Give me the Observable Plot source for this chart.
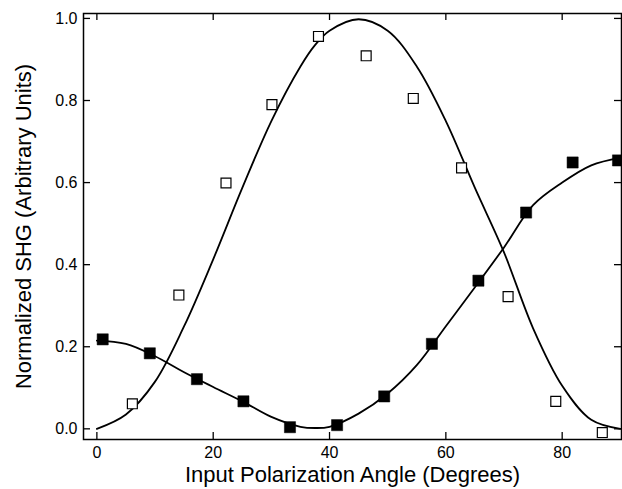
<!DOCTYPE html>
<html>
<head>
<meta charset="utf-8">
<script src="https://cdn.jsdelivr.net/npm/d3@7"></script>
<script src="https://cdn.jsdelivr.net/npm/@observablehq/plot@0.6"></script>
<style>
  html, body { margin: 0; padding: 0; background: #fff; }
  #chart svg { font-family: "Liberation Sans", Arial, sans-serif; }
  #chart [aria-label$="tick label"] { font-size: 16px; }
</style>
</head>
<body>
<div id="chart"></div>
<script>
// Open squares (measured)
const openX = [6.1, 14.1, 22.2, 30.1, 38.1, 46.3, 54.4, 62.7, 70.7, 78.9, 86.9];
const openY = [0.061, 0.326, 0.599, 0.790, 0.956, 0.909, 0.805, 0.636, 0.322, 0.067, -0.009];
// Filled squares (measured)
const filledX = [1.0, 9.1, 17.2, 25.2, 33.2, 41.3, 49.4, 57.6, 65.6, 73.8, 81.8, 89.6];
const filledY = [0.218, 0.184, 0.121, 0.067, 0.004, 0.009, 0.079, 0.207, 0.361, 0.527, 0.649, 0.654];
// Fitted curves
const fitX = [0, 5, 10, 15, 20, 25, 30, 35, 37.5, 40, 45, 50, 55, 60, 65, 70, 75, 80, 85, 90];
const openFitY = [0, 0.035, 0.115, 0.25, 0.413, 0.587, 0.75, 0.883, 0.935, 0.97, 0.998, 0.97, 0.883, 0.75, 0.587, 0.43, 0.245, 0.105, 0.022, 0];
const filledFitY = [0.215, 0.207, 0.177, 0.138, 0.102, 0.067, 0.029, 0.005, 0.002, 0.005, 0.037, 0.086, 0.155, 0.25, 0.345, 0.442, 0.545, 0.600, 0.642, 0.661];
const xTicks = [0, 20, 40, 60, 80];
const yTicks = [0, 0.2, 0.4, 0.6, 0.8, 1.0];
const xLabel = "Input Polarization Angle (Degrees)";
const yLabel = "Normalized SHG (Arbitrary Units)";

const openPts = openX.map((x, i) => ({x, y: openY[i]}));
const filledPts = filledX.map((x, i) => ({x, y: filledY[i]}));
const openFit = fitX.map((x, i) => ({x, y: openFitY[i]}));
const filledFit = fitX.map((x, i) => ({x, y: filledFitY[i]}));

const W = 622, H = 489, ML = 83, MR = 1, MT = 13, MB = 50;
const xDom = [-2.3, 90.2], yDom = [-0.026, 1.012];
const frameW = W - ML - MR, frameH = H - MT - MB, tick = 7;
// inward tick lengths expressed in data units of each scale
const tx = (xDom[1] - xDom[0]) * tick / frameW;
const ty = (yDom[1] - yDom[0]) * tick / frameH;

const chart = Plot.plot({
  width: W,
  height: H,
  marginLeft: ML,
  marginRight: MR,
  marginTop: MT,
  marginBottom: MB,
  x: {domain: xDom},
  y: {domain: yDom},
  marks: [
    Plot.frame({stroke: "black", strokeWidth: 1.5}),
    Plot.axisX({ticks: xTicks, tickSize: 0, tickPadding: 7, tickFormat: d3.format("d"), label: null}),
    Plot.axisY({ticks: yTicks, tickSize: 0, tickPadding: 6, tickFormat: d3.format(".1f"), label: null}),
    // inward ticks on all four sides
    Plot.ruleX(xTicks, {x: d => d, y1: yDom[0], y2: yDom[0] + ty, stroke: "black", strokeWidth: 1.3}),
    Plot.ruleX(xTicks, {x: d => d, y1: yDom[1], y2: yDom[1] - ty, stroke: "black", strokeWidth: 1.3}),
    Plot.ruleY(yTicks, {y: d => d, x1: xDom[0], x2: xDom[0] + tx, stroke: "black", strokeWidth: 1.3}),
    Plot.ruleY(yTicks, {y: d => d, x1: xDom[1], x2: xDom[1] - tx, stroke: "black", strokeWidth: 1.3}),
    Plot.text([xLabel], {text: d => d, frameAnchor: "bottom", dy: 42, fontSize: 22, fill: "black"}),
    Plot.text([yLabel], {text: d => d, frameAnchor: "left", dx: -60, rotate: -90, textAnchor: "middle", fontSize: 22, fill: "black"}),
    Plot.line(openFit, {x: "x", y: "y", curve: "catmull-rom", stroke: "black", strokeWidth: 1.8}),
    Plot.line(filledFit, {x: "x", y: "y", curve: "catmull-rom", stroke: "black", strokeWidth: 1.8}),
    Plot.dot(openPts, {x: "x", y: "y", symbol: "square", r: 5.6, fill: "white", stroke: "black", strokeWidth: 1.2}),
    Plot.dot(filledPts, {x: "x", y: "y", symbol: "square", r: 6.3, fill: "black", stroke: "black", strokeWidth: 0.5})
  ]
});
document.getElementById("chart").appendChild(chart);
</script>
</body>
</html>
